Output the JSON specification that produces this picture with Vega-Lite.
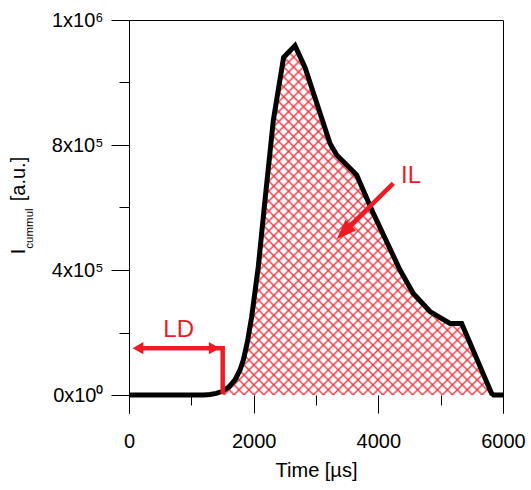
{
  "$schema": "https://vega.github.io/schema/vega-lite/v6.json",
  "width": 374,
  "height": 393,
  "autosize": {"type": "none"},
  "padding": {"left": 129, "top": 20, "right": 28, "bottom": 77},
  "background": "white",
  "config": {
    "view": {"stroke": null},
    "axis": {"grid": false, "domainColor": "#000", "tickColor": "#000", "labelColor": "#000", "titleColor": "#000", "labelFont": "Liberation Sans", "titleFont": "Liberation Sans", "labelFontSize": 20, "titleFontSize": 20, "titleFontWeight": "normal", "domainWidth": 1, "tickWidth": 1, "labelFlush": false, "labelOverlap": false}
  },
  "datasets": {
    "curve": [
      {"t": 0, "v": 0}, {"t": 500, "v": 0}, {"t": 1000, "v": 0}, {"t": 1200, "v": 300}, {"t": 1300, "v": 1500}, {"t": 1400, "v": 5000}, {"t": 1500, "v": 12000}, {"t": 1600, "v": 25000}, {"t": 1700, "v": 48000}, {"t": 1781, "v": 80000}, {"t": 1834, "v": 112000}, {"t": 1900, "v": 170000}, {"t": 1968, "v": 250000}, {"t": 2074, "v": 410000}, {"t": 2182, "v": 624000}, {"t": 2316, "v": 880000}, {"t": 2480, "v": 1080000}, {"t": 2663, "v": 1118000}, {"t": 2824, "v": 1048000}, {"t": 3225, "v": 805000}, {"t": 3332, "v": 768000}, {"t": 3652, "v": 704000}, {"t": 3920, "v": 581000}, {"t": 4348, "v": 400000}, {"t": 4561, "v": 325000}, {"t": 4829, "v": 267000}, {"t": 5150, "v": 229000}, {"t": 5337, "v": 229000}, {"t": 5817, "v": 5000}, {"t": 5850, "v": 0}, {"t": 6000, "v": 0}
    ],
    "ld": [{"t": 144, "v": 150000, "end": "start"}, {"t": 1368, "v": 150000, "end": "end"}],
    "il": [{"t": 3445, "v": 520900}],
    "segs": [
      {"t": 144, "v": 150000, "t2": 1503, "v2": 150000},
      {"t": 1503, "v": 157000, "t2": 1503, "v2": 4000},
      {"t": 4240, "v": 677000, "t2": 3445, "v2": 520900}
    ],
    "notes": [{"label": "LD", "t": 797, "v": 186600}, {"label": "IL", "t": 4524, "v": 679400}]
  },
  "resolve": {"axis": {"x": "independent", "y": "independent"}},
  "layer": [
    {
      "data": {"name": "curve"},
      "transform": [{"filter": "datum.t >= 1500 && datum.t <= 5850"}],
      "mark": {"type": "area", "fillOpacity": 0.88, "fill": {"gradient": "linear", "x1": 0, "y1": 0, "x2": 0.861, "y2": 1.108, "stops": [
{"offset":0.0015,"color":"#f0303c00"},{"offset":0.005,"color":"#f0303c"},{"offset":0.0085,"color":"#f0303c00"},
{"offset":0.0175,"color":"#f0303c00"},{"offset":0.021,"color":"#f0303c"},{"offset":0.0245,"color":"#f0303c00"},
{"offset":0.0335,"color":"#f0303c00"},{"offset":0.037,"color":"#f0303c"},{"offset":0.0405,"color":"#f0303c00"},
{"offset":0.0495,"color":"#f0303c00"},{"offset":0.053,"color":"#f0303c"},{"offset":0.0565,"color":"#f0303c00"},
{"offset":0.0655,"color":"#f0303c00"},{"offset":0.069,"color":"#f0303c"},{"offset":0.0725,"color":"#f0303c00"},
{"offset":0.0815,"color":"#f0303c00"},{"offset":0.085,"color":"#f0303c"},{"offset":0.0885,"color":"#f0303c00"},
{"offset":0.0975,"color":"#f0303c00"},{"offset":0.101,"color":"#f0303c"},{"offset":0.1045,"color":"#f0303c00"},
{"offset":0.1135,"color":"#f0303c00"},{"offset":0.117,"color":"#f0303c"},{"offset":0.1205,"color":"#f0303c00"},
{"offset":0.1295,"color":"#f0303c00"},{"offset":0.133,"color":"#f0303c"},{"offset":0.1365,"color":"#f0303c00"},
{"offset":0.1455,"color":"#f0303c00"},{"offset":0.149,"color":"#f0303c"},{"offset":0.1525,"color":"#f0303c00"},
{"offset":0.1615,"color":"#f0303c00"},{"offset":0.165,"color":"#f0303c"},{"offset":0.1685,"color":"#f0303c00"},
{"offset":0.1775,"color":"#f0303c00"},{"offset":0.181,"color":"#f0303c"},{"offset":0.1845,"color":"#f0303c00"},
{"offset":0.1935,"color":"#f0303c00"},{"offset":0.197,"color":"#f0303c"},{"offset":0.2005,"color":"#f0303c00"},
{"offset":0.2095,"color":"#f0303c00"},{"offset":0.213,"color":"#f0303c"},{"offset":0.2165,"color":"#f0303c00"},
{"offset":0.2255,"color":"#f0303c00"},{"offset":0.229,"color":"#f0303c"},{"offset":0.2325,"color":"#f0303c00"},
{"offset":0.2415,"color":"#f0303c00"},{"offset":0.245,"color":"#f0303c"},{"offset":0.2485,"color":"#f0303c00"},
{"offset":0.2575,"color":"#f0303c00"},{"offset":0.261,"color":"#f0303c"},{"offset":0.2645,"color":"#f0303c00"},
{"offset":0.2735,"color":"#f0303c00"},{"offset":0.277,"color":"#f0303c"},{"offset":0.2805,"color":"#f0303c00"},
{"offset":0.2895,"color":"#f0303c00"},{"offset":0.293,"color":"#f0303c"},{"offset":0.2965,"color":"#f0303c00"},
{"offset":0.3055,"color":"#f0303c00"},{"offset":0.309,"color":"#f0303c"},{"offset":0.3125,"color":"#f0303c00"},
{"offset":0.3215,"color":"#f0303c00"},{"offset":0.325,"color":"#f0303c"},{"offset":0.3285,"color":"#f0303c00"},
{"offset":0.3375,"color":"#f0303c00"},{"offset":0.341,"color":"#f0303c"},{"offset":0.3445,"color":"#f0303c00"},
{"offset":0.3535,"color":"#f0303c00"},{"offset":0.357,"color":"#f0303c"},{"offset":0.3605,"color":"#f0303c00"},
{"offset":0.3695,"color":"#f0303c00"},{"offset":0.373,"color":"#f0303c"},{"offset":0.3765,"color":"#f0303c00"},
{"offset":0.3855,"color":"#f0303c00"},{"offset":0.389,"color":"#f0303c"},{"offset":0.3925,"color":"#f0303c00"},
{"offset":0.4015,"color":"#f0303c00"},{"offset":0.405,"color":"#f0303c"},{"offset":0.4085,"color":"#f0303c00"},
{"offset":0.4175,"color":"#f0303c00"},{"offset":0.421,"color":"#f0303c"},{"offset":0.4245,"color":"#f0303c00"},
{"offset":0.4335,"color":"#f0303c00"},{"offset":0.437,"color":"#f0303c"},{"offset":0.4405,"color":"#f0303c00"},
{"offset":0.4495,"color":"#f0303c00"},{"offset":0.453,"color":"#f0303c"},{"offset":0.4565,"color":"#f0303c00"},
{"offset":0.4655,"color":"#f0303c00"},{"offset":0.469,"color":"#f0303c"},{"offset":0.4725,"color":"#f0303c00"},
{"offset":0.4815,"color":"#f0303c00"},{"offset":0.485,"color":"#f0303c"},{"offset":0.4885,"color":"#f0303c00"},
{"offset":0.4975,"color":"#f0303c00"},{"offset":0.501,"color":"#f0303c"},{"offset":0.5045,"color":"#f0303c00"},
{"offset":0.5135,"color":"#f0303c00"},{"offset":0.517,"color":"#f0303c"},{"offset":0.5205,"color":"#f0303c00"},
{"offset":0.5295,"color":"#f0303c00"},{"offset":0.533,"color":"#f0303c"},{"offset":0.5365,"color":"#f0303c00"},
{"offset":0.5455,"color":"#f0303c00"},{"offset":0.549,"color":"#f0303c"},{"offset":0.5525,"color":"#f0303c00"},
{"offset":0.5615,"color":"#f0303c00"},{"offset":0.565,"color":"#f0303c"},{"offset":0.5685,"color":"#f0303c00"},
{"offset":0.5775,"color":"#f0303c00"},{"offset":0.581,"color":"#f0303c"},{"offset":0.5845,"color":"#f0303c00"},
{"offset":0.5935,"color":"#f0303c00"},{"offset":0.597,"color":"#f0303c"},{"offset":0.6005,"color":"#f0303c00"},
{"offset":0.6095,"color":"#f0303c00"},{"offset":0.613,"color":"#f0303c"},{"offset":0.6165,"color":"#f0303c00"},
{"offset":0.6255,"color":"#f0303c00"},{"offset":0.629,"color":"#f0303c"},{"offset":0.6325,"color":"#f0303c00"},
{"offset":0.6415,"color":"#f0303c00"},{"offset":0.645,"color":"#f0303c"},{"offset":0.6485,"color":"#f0303c00"},
{"offset":0.6575,"color":"#f0303c00"},{"offset":0.661,"color":"#f0303c"},{"offset":0.6645,"color":"#f0303c00"},
{"offset":0.6735,"color":"#f0303c00"},{"offset":0.677,"color":"#f0303c"},{"offset":0.6805,"color":"#f0303c00"},
{"offset":0.6895,"color":"#f0303c00"},{"offset":0.693,"color":"#f0303c"},{"offset":0.6965,"color":"#f0303c00"},
{"offset":0.7055,"color":"#f0303c00"},{"offset":0.709,"color":"#f0303c"},{"offset":0.7125,"color":"#f0303c00"},
{"offset":0.7215,"color":"#f0303c00"},{"offset":0.725,"color":"#f0303c"},{"offset":0.7285,"color":"#f0303c00"},
{"offset":0.7375,"color":"#f0303c00"},{"offset":0.741,"color":"#f0303c"},{"offset":0.7445,"color":"#f0303c00"},
{"offset":0.7535,"color":"#f0303c00"},{"offset":0.757,"color":"#f0303c"},{"offset":0.7605,"color":"#f0303c00"},
{"offset":0.7695,"color":"#f0303c00"},{"offset":0.773,"color":"#f0303c"},{"offset":0.7765,"color":"#f0303c00"},
{"offset":0.7855,"color":"#f0303c00"},{"offset":0.789,"color":"#f0303c"},{"offset":0.7925,"color":"#f0303c00"},
{"offset":0.8015,"color":"#f0303c00"},{"offset":0.805,"color":"#f0303c"},{"offset":0.8085,"color":"#f0303c00"},
{"offset":0.8175,"color":"#f0303c00"},{"offset":0.821,"color":"#f0303c"},{"offset":0.8245,"color":"#f0303c00"},
{"offset":0.8335,"color":"#f0303c00"},{"offset":0.837,"color":"#f0303c"},{"offset":0.8405,"color":"#f0303c00"},
{"offset":0.8495,"color":"#f0303c00"},{"offset":0.853,"color":"#f0303c"},{"offset":0.8565,"color":"#f0303c00"},
{"offset":0.8655,"color":"#f0303c00"},{"offset":0.869,"color":"#f0303c"},{"offset":0.8725,"color":"#f0303c00"},
{"offset":0.8815,"color":"#f0303c00"},{"offset":0.885,"color":"#f0303c"},{"offset":0.8885,"color":"#f0303c00"},
{"offset":0.8975,"color":"#f0303c00"},{"offset":0.901,"color":"#f0303c"},{"offset":0.9045,"color":"#f0303c00"},
{"offset":0.9135,"color":"#f0303c00"},{"offset":0.917,"color":"#f0303c"},{"offset":0.9205,"color":"#f0303c00"},
{"offset":0.9295,"color":"#f0303c00"},{"offset":0.933,"color":"#f0303c"},{"offset":0.9365,"color":"#f0303c00"},
{"offset":0.9455,"color":"#f0303c00"},{"offset":0.949,"color":"#f0303c"},{"offset":0.9525,"color":"#f0303c00"},
{"offset":0.9615,"color":"#f0303c00"},{"offset":0.965,"color":"#f0303c"},{"offset":0.9685,"color":"#f0303c00"},
{"offset":0.9775,"color":"#f0303c00"},{"offset":0.981,"color":"#f0303c"},{"offset":0.9845,"color":"#f0303c00"},
{"offset":0.9935,"color":"#f0303c00"},{"offset":0.997,"color":"#f0303c"},{"offset":1.0,"color":"#f0303c00"}
      ]}},
      "encoding": {
        "x": {"field": "t", "type": "quantitative", "scale": {"domain": [0, 6000], "nice": false, "zero": false},
          "axis": {"orient": "bottom", "values": [0, 2000, 4000, 6000], "format": "d", "ticks": true, "tickSize": 18, "offset": -18, "domain": false, "labelPadding": 18, "title": "Time [µs]", "titleY": 81, "titleBaseline": "alphabetic"}},
        "y": {"field": "v", "type": "quantitative", "scale": {"domain": [-57600, 1200000], "nice": false, "zero": false},
          "axis": {"orient": "left", "values": [0, 400000, 800000, 1200000], "ticks": false, "labelPadding": 26, "labelAlign": "right", "labelExpr": "datum.value == 0 ? '0x10⁰' : datum.value == 400000 ? '4x10⁵' : datum.value == 800000 ? '8x10⁵' : '1x10⁶'", "title": "I", "titleAngle": 270, "titleX": -105, "titleY": 231, "titleAlign": "center", "titleBaseline": "alphabetic"}},
        "y2": {"datum": 0}
      }
    },
    {
      "data": {"name": "curve"},
      "transform": [{"filter": "datum.t >= 1500 && datum.t <= 5850"}],
      "mark": {"type": "area", "fillOpacity": 0.88, "fill": {"gradient": "linear", "x1": 1, "y1": 0, "x2": 0.139, "y2": 1.108, "stops": [
{"offset":0.0015,"color":"#f0303c00"},{"offset":0.005,"color":"#f0303c"},{"offset":0.0085,"color":"#f0303c00"},
{"offset":0.0175,"color":"#f0303c00"},{"offset":0.021,"color":"#f0303c"},{"offset":0.0245,"color":"#f0303c00"},
{"offset":0.0335,"color":"#f0303c00"},{"offset":0.037,"color":"#f0303c"},{"offset":0.0405,"color":"#f0303c00"},
{"offset":0.0495,"color":"#f0303c00"},{"offset":0.053,"color":"#f0303c"},{"offset":0.0565,"color":"#f0303c00"},
{"offset":0.0655,"color":"#f0303c00"},{"offset":0.069,"color":"#f0303c"},{"offset":0.0725,"color":"#f0303c00"},
{"offset":0.0815,"color":"#f0303c00"},{"offset":0.085,"color":"#f0303c"},{"offset":0.0885,"color":"#f0303c00"},
{"offset":0.0975,"color":"#f0303c00"},{"offset":0.101,"color":"#f0303c"},{"offset":0.1045,"color":"#f0303c00"},
{"offset":0.1135,"color":"#f0303c00"},{"offset":0.117,"color":"#f0303c"},{"offset":0.1205,"color":"#f0303c00"},
{"offset":0.1295,"color":"#f0303c00"},{"offset":0.133,"color":"#f0303c"},{"offset":0.1365,"color":"#f0303c00"},
{"offset":0.1455,"color":"#f0303c00"},{"offset":0.149,"color":"#f0303c"},{"offset":0.1525,"color":"#f0303c00"},
{"offset":0.1615,"color":"#f0303c00"},{"offset":0.165,"color":"#f0303c"},{"offset":0.1685,"color":"#f0303c00"},
{"offset":0.1775,"color":"#f0303c00"},{"offset":0.181,"color":"#f0303c"},{"offset":0.1845,"color":"#f0303c00"},
{"offset":0.1935,"color":"#f0303c00"},{"offset":0.197,"color":"#f0303c"},{"offset":0.2005,"color":"#f0303c00"},
{"offset":0.2095,"color":"#f0303c00"},{"offset":0.213,"color":"#f0303c"},{"offset":0.2165,"color":"#f0303c00"},
{"offset":0.2255,"color":"#f0303c00"},{"offset":0.229,"color":"#f0303c"},{"offset":0.2325,"color":"#f0303c00"},
{"offset":0.2415,"color":"#f0303c00"},{"offset":0.245,"color":"#f0303c"},{"offset":0.2485,"color":"#f0303c00"},
{"offset":0.2575,"color":"#f0303c00"},{"offset":0.261,"color":"#f0303c"},{"offset":0.2645,"color":"#f0303c00"},
{"offset":0.2735,"color":"#f0303c00"},{"offset":0.277,"color":"#f0303c"},{"offset":0.2805,"color":"#f0303c00"},
{"offset":0.2895,"color":"#f0303c00"},{"offset":0.293,"color":"#f0303c"},{"offset":0.2965,"color":"#f0303c00"},
{"offset":0.3055,"color":"#f0303c00"},{"offset":0.309,"color":"#f0303c"},{"offset":0.3125,"color":"#f0303c00"},
{"offset":0.3215,"color":"#f0303c00"},{"offset":0.325,"color":"#f0303c"},{"offset":0.3285,"color":"#f0303c00"},
{"offset":0.3375,"color":"#f0303c00"},{"offset":0.341,"color":"#f0303c"},{"offset":0.3445,"color":"#f0303c00"},
{"offset":0.3535,"color":"#f0303c00"},{"offset":0.357,"color":"#f0303c"},{"offset":0.3605,"color":"#f0303c00"},
{"offset":0.3695,"color":"#f0303c00"},{"offset":0.373,"color":"#f0303c"},{"offset":0.3765,"color":"#f0303c00"},
{"offset":0.3855,"color":"#f0303c00"},{"offset":0.389,"color":"#f0303c"},{"offset":0.3925,"color":"#f0303c00"},
{"offset":0.4015,"color":"#f0303c00"},{"offset":0.405,"color":"#f0303c"},{"offset":0.4085,"color":"#f0303c00"},
{"offset":0.4175,"color":"#f0303c00"},{"offset":0.421,"color":"#f0303c"},{"offset":0.4245,"color":"#f0303c00"},
{"offset":0.4335,"color":"#f0303c00"},{"offset":0.437,"color":"#f0303c"},{"offset":0.4405,"color":"#f0303c00"},
{"offset":0.4495,"color":"#f0303c00"},{"offset":0.453,"color":"#f0303c"},{"offset":0.4565,"color":"#f0303c00"},
{"offset":0.4655,"color":"#f0303c00"},{"offset":0.469,"color":"#f0303c"},{"offset":0.4725,"color":"#f0303c00"},
{"offset":0.4815,"color":"#f0303c00"},{"offset":0.485,"color":"#f0303c"},{"offset":0.4885,"color":"#f0303c00"},
{"offset":0.4975,"color":"#f0303c00"},{"offset":0.501,"color":"#f0303c"},{"offset":0.5045,"color":"#f0303c00"},
{"offset":0.5135,"color":"#f0303c00"},{"offset":0.517,"color":"#f0303c"},{"offset":0.5205,"color":"#f0303c00"},
{"offset":0.5295,"color":"#f0303c00"},{"offset":0.533,"color":"#f0303c"},{"offset":0.5365,"color":"#f0303c00"},
{"offset":0.5455,"color":"#f0303c00"},{"offset":0.549,"color":"#f0303c"},{"offset":0.5525,"color":"#f0303c00"},
{"offset":0.5615,"color":"#f0303c00"},{"offset":0.565,"color":"#f0303c"},{"offset":0.5685,"color":"#f0303c00"},
{"offset":0.5775,"color":"#f0303c00"},{"offset":0.581,"color":"#f0303c"},{"offset":0.5845,"color":"#f0303c00"},
{"offset":0.5935,"color":"#f0303c00"},{"offset":0.597,"color":"#f0303c"},{"offset":0.6005,"color":"#f0303c00"},
{"offset":0.6095,"color":"#f0303c00"},{"offset":0.613,"color":"#f0303c"},{"offset":0.6165,"color":"#f0303c00"},
{"offset":0.6255,"color":"#f0303c00"},{"offset":0.629,"color":"#f0303c"},{"offset":0.6325,"color":"#f0303c00"},
{"offset":0.6415,"color":"#f0303c00"},{"offset":0.645,"color":"#f0303c"},{"offset":0.6485,"color":"#f0303c00"},
{"offset":0.6575,"color":"#f0303c00"},{"offset":0.661,"color":"#f0303c"},{"offset":0.6645,"color":"#f0303c00"},
{"offset":0.6735,"color":"#f0303c00"},{"offset":0.677,"color":"#f0303c"},{"offset":0.6805,"color":"#f0303c00"},
{"offset":0.6895,"color":"#f0303c00"},{"offset":0.693,"color":"#f0303c"},{"offset":0.6965,"color":"#f0303c00"},
{"offset":0.7055,"color":"#f0303c00"},{"offset":0.709,"color":"#f0303c"},{"offset":0.7125,"color":"#f0303c00"},
{"offset":0.7215,"color":"#f0303c00"},{"offset":0.725,"color":"#f0303c"},{"offset":0.7285,"color":"#f0303c00"},
{"offset":0.7375,"color":"#f0303c00"},{"offset":0.741,"color":"#f0303c"},{"offset":0.7445,"color":"#f0303c00"},
{"offset":0.7535,"color":"#f0303c00"},{"offset":0.757,"color":"#f0303c"},{"offset":0.7605,"color":"#f0303c00"},
{"offset":0.7695,"color":"#f0303c00"},{"offset":0.773,"color":"#f0303c"},{"offset":0.7765,"color":"#f0303c00"},
{"offset":0.7855,"color":"#f0303c00"},{"offset":0.789,"color":"#f0303c"},{"offset":0.7925,"color":"#f0303c00"},
{"offset":0.8015,"color":"#f0303c00"},{"offset":0.805,"color":"#f0303c"},{"offset":0.8085,"color":"#f0303c00"},
{"offset":0.8175,"color":"#f0303c00"},{"offset":0.821,"color":"#f0303c"},{"offset":0.8245,"color":"#f0303c00"},
{"offset":0.8335,"color":"#f0303c00"},{"offset":0.837,"color":"#f0303c"},{"offset":0.8405,"color":"#f0303c00"},
{"offset":0.8495,"color":"#f0303c00"},{"offset":0.853,"color":"#f0303c"},{"offset":0.8565,"color":"#f0303c00"},
{"offset":0.8655,"color":"#f0303c00"},{"offset":0.869,"color":"#f0303c"},{"offset":0.8725,"color":"#f0303c00"},
{"offset":0.8815,"color":"#f0303c00"},{"offset":0.885,"color":"#f0303c"},{"offset":0.8885,"color":"#f0303c00"},
{"offset":0.8975,"color":"#f0303c00"},{"offset":0.901,"color":"#f0303c"},{"offset":0.9045,"color":"#f0303c00"},
{"offset":0.9135,"color":"#f0303c00"},{"offset":0.917,"color":"#f0303c"},{"offset":0.9205,"color":"#f0303c00"},
{"offset":0.9295,"color":"#f0303c00"},{"offset":0.933,"color":"#f0303c"},{"offset":0.9365,"color":"#f0303c00"},
{"offset":0.9455,"color":"#f0303c00"},{"offset":0.949,"color":"#f0303c"},{"offset":0.9525,"color":"#f0303c00"},
{"offset":0.9615,"color":"#f0303c00"},{"offset":0.965,"color":"#f0303c"},{"offset":0.9685,"color":"#f0303c00"},
{"offset":0.9775,"color":"#f0303c00"},{"offset":0.981,"color":"#f0303c"},{"offset":0.9845,"color":"#f0303c00"},
{"offset":0.9935,"color":"#f0303c00"},{"offset":0.997,"color":"#f0303c"},{"offset":1.0,"color":"#f0303c00"}
      ]}},
      "encoding": {
        "x": {"field": "t", "type": "quantitative", "scale": {"domain": [0, 6000], "nice": false, "zero": false},
          "axis": {"orient": "bottom", "values": [1000, 3000, 5000], "ticks": true, "tickSize": 10, "offset": -18, "domain": false, "labels": false, "title": null}},
        "y": {"field": "v", "type": "quantitative", "scale": {"domain": [-57600, 1200000], "nice": false, "zero": false},
          "axis": {"orient": "left", "values": [200000, 600000, 1000000], "ticks": true, "tickSize": 10, "domain": false, "labels": false, "title": "cummul", "titleFontSize": 11.5, "titleAngle": 270, "titleX": -97, "titleY": 208, "titleAlign": "center", "titleBaseline": "alphabetic"}},
        "y2": {"datum": 0}
      }
    },
    {
      "data": {"name": "curve"},
      "mark": {"type": "line", "color": "#000", "strokeWidth": 5, "strokeJoin": "miter", "strokeMiterLimit": 10},
      "encoding": {
        "x": {"field": "t", "type": "quantitative", "scale": {"domain": [0, 6000], "nice": false, "zero": false},
          "axis": {"orient": "top", "ticks": false, "labels": false, "domain": true, "title": null}},
        "y": {"field": "v", "type": "quantitative", "scale": {"domain": [-57600, 1200000], "nice": false, "zero": false},
          "axis": {"orient": "right", "ticks": false, "labels": false, "domain": true, "title": "[a.u.]", "titleAngle": 270, "titleX": -479, "titleY": 158.5, "titleAlign": "center", "titleBaseline": "alphabetic"}}
      }
    },
    {
      "data": {"name": "segs"},
      "mark": {"type": "rule", "color": "#ed1c24", "strokeWidth": 4.5},
      "encoding": {
        "x": {"field": "t", "type": "quantitative", "scale": {"domain": [0, 6000], "nice": false, "zero": false}, "axis": null},
        "x2": {"field": "t2"},
        "y": {"field": "v", "type": "quantitative", "scale": {"domain": [-57600, 1200000], "nice": false, "zero": false},
          "axis": {"orient": "left", "values": [0, 400000, 800000, 1200000], "ticks": true, "tickSize": 18, "labels": false, "domain": false, "title": null}},
        "y2": {"field": "v2"}
      }
    },
    {
      "data": {"name": "ld"},
      "mark": {"type": "point", "filled": true, "color": "#ed1c24", "size": 156, "opacity": 1, "strokeWidth": 0},
      "encoding": {
        "x": {"field": "t", "type": "quantitative", "scale": {"domain": [0, 6000], "nice": false, "zero": false}, "axis": null},
        "y": {"field": "v", "type": "quantitative", "scale": {"domain": [-57600, 1200000], "nice": false, "zero": false}, "axis": null},
        "shape": {"field": "end", "type": "nominal", "scale": {"domain": ["start", "end"], "range": ["triangle-left", "triangle-right"]}, "legend": null}
      }
    },
    {
      "data": {"name": "il"},
      "mark": {"type": "point", "filled": true, "color": "#ed1c24", "size": 400, "opacity": 1, "strokeWidth": 0, "shape": "M0,1L-0.75,-1L0.75,-1Z", "angle": 45},
      "encoding": {
        "x": {"field": "t", "type": "quantitative", "scale": {"domain": [0, 6000], "nice": false, "zero": false}, "axis": null},
        "y": {"field": "v", "type": "quantitative", "scale": {"domain": [-57600, 1200000], "nice": false, "zero": false}, "axis": null}
      }
    },
    {
      "data": {"name": "notes"},
      "mark": {"type": "text", "color": "#ed1c24", "fontSize": 24, "font": "Liberation Sans", "align": "center", "baseline": "alphabetic"},
      "encoding": {
        "x": {"field": "t", "type": "quantitative", "scale": {"domain": [0, 6000], "nice": false, "zero": false}, "axis": null},
        "y": {"field": "v", "type": "quantitative", "scale": {"domain": [-57600, 1200000], "nice": false, "zero": false}, "axis": null},
        "text": {"field": "label"}
      }
    }
  ]
}
